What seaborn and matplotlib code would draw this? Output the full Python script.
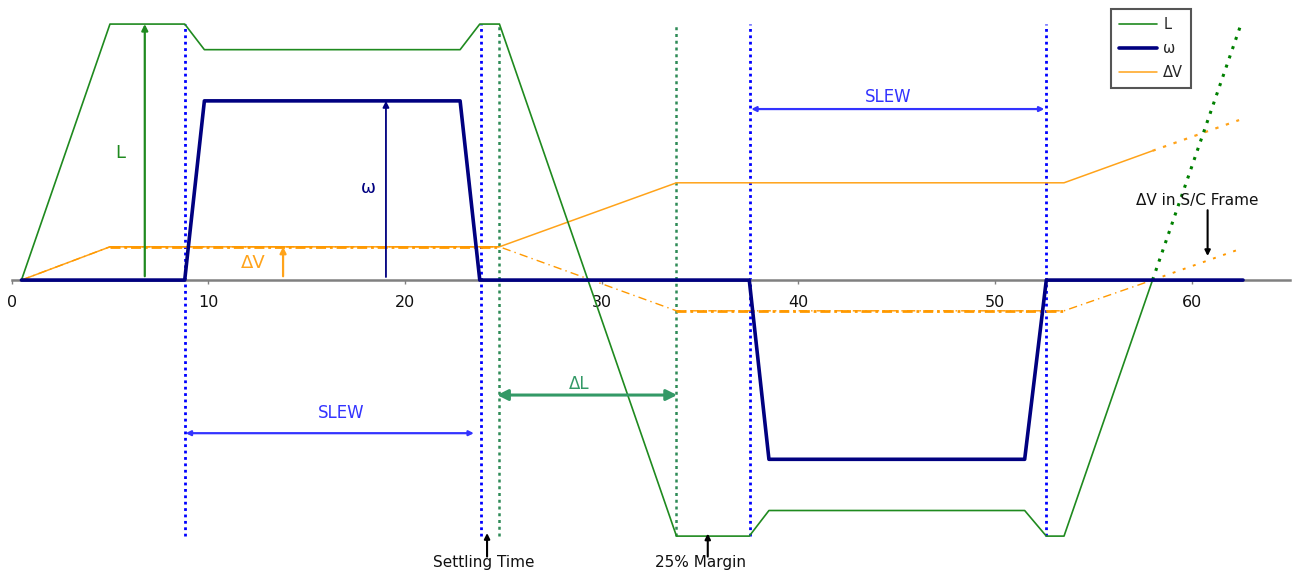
import matplotlib
matplotlib.use("Agg")
import matplotlib.pyplot as plt
from matplotlib.lines import Line2D
import numpy as np
import pandas as pd
import seaborn as sns

# ---- momentum profile (L), wheel speed (omega), velocity change (dV) ----
t_L = [0.5, 5.0, 8.8, 9.8, 22.8, 23.8, 24.8, 33.8, 37.5, 38.5, 51.5, 52.6, 53.5, 58.0]
L_vals = [0, 10, 10, 9, 9, 10, 10, -10, -10, -9, -9, -10, -10, 0]
t_L_ext = [58.0, 62.5]
L_ext = [0, 10]

t_w = [0.5, 8.8, 9.8, 22.8, 23.8, 37.5, 38.5, 51.5, 52.6, 62.6]
w_vals = [0, 0, 7, 7, 0, 0, -7, -7, 0, 0]

t_dv = [0.5, 5.0, 24.8, 33.8, 53.5, 58.0]
dv_inertial = [0, 1.3, 1.3, 3.8, 3.8, 5.05]
dv_body = [0, 1.3, 1.3, -1.2, -1.2, 0]
t_dv_ext = [58.0, 62.4]
dv_inertial_ext = [5.05, 6.25]
dv_body_ext = [0, 1.2]

slew_bounds = [8.8, 23.85, 37.55, 52.6]
margin_bounds = [24.8, 33.8]
x_ticks = [0, 10, 20, 30, 40, 50, 60]

C_L = "#1f8a1f"
C_W = "#000080"
C_DV = "#ffa31a"
C_DV2 = "#ff9900"
C_SLEW = "#0000ff"
C_SLEW_TXT = "#3333ff"
C_MARGIN = "#2e8b57"
C_DL = "#339966"

sns.set_theme(style="white")
plt.rcParams["font.family"] = ["DejaVu Sans"]

fig = plt.figure(figsize=(12.92, 5.74), dpi=100)
ax = fig.add_axes([0, 0, 1, 1])
ax.set_xlim(-0.59, 65.09)
ax.set_ylim(-11.48, 10.94)

# event markers
ax.vlines(slew_bounds, -10, 10, colors=C_SLEW, linestyles=(0, (1, 1.3)), lw=2.0, zorder=1)
ax.vlines(margin_bounds, -10, 10, colors=C_MARGIN, linestyles=(0, (1.2, 1.5)), lw=1.8, zorder=1)

# dV in inertial frame (solid) and spacecraft frame (dash-dot)
sns.lineplot(x=t_dv, y=dv_inertial, ax=ax, color=C_DV, lw=1.1, estimator=None, zorder=2)
sns.lineplot(x=t_dv_ext, y=dv_inertial_ext, ax=ax, color=C_DV, lw=1.6,
             linestyle=(0, (1.5, 3.5)), estimator=None, zorder=2)
sns.lineplot(x=t_dv, y=dv_body, ax=ax, color=C_DV2, lw=1.0,
             linestyle=(0, (6, 3, 1, 3)), estimator=None, zorder=2)
sns.lineplot(x=t_dv[1:3], y=dv_body[1:3], ax=ax, color=C_DV2, lw=2.0,
             linestyle=(0, (3.6, 1.4, 1, 1.4)), estimator=None, zorder=2)
sns.lineplot(x=t_dv[3:5], y=dv_body[3:5], ax=ax, color=C_DV2, lw=2.0,
             linestyle=(0, (3.6, 1.4, 1, 1.4)), estimator=None, zorder=2)
sns.lineplot(x=t_dv_ext, y=dv_body_ext, ax=ax, color=C_DV2, lw=1.4,
             linestyle=(0, (1.5, 4)), estimator=None, zorder=2)

# angular momentum
sns.lineplot(x=t_L, y=L_vals, ax=ax, color=C_L, lw=1.2, estimator=None, zorder=2.2)
sns.lineplot(x=t_L_ext, y=L_ext, ax=ax, color="#008000", lw=2.2,
             linestyle=(0, (1, 2.2)), estimator=None, zorder=2.2)

# wheel speed
sns.lineplot(x=t_w, y=w_vals, ax=ax, color=C_W, lw=2.6, estimator=None, zorder=3)

# axis styling
for side in ("left", "top", "right"):
    ax.spines[side].set_visible(False)
ax.spines["bottom"].set_position(("data", 0))
ax.spines["bottom"].set_bounds(0, 65)
ax.spines["bottom"].set_color("#808080")
ax.spines["bottom"].set_linewidth(1.8)
ax.spines["bottom"].set_zorder(1.5)
ax.set_xticks(x_ticks)
ax.set_yticks([])
ax.tick_params(axis="x", direction="out", length=3, width=1, color="#808080",
               pad=8, labelsize=11.5, labelcolor="#111111", bottom=True)
ax.set_xlabel("")
ax.set_ylabel("")


def arrow(x0, y0, x1, y1, color, lw=1.4, style="-|>", ms=9):
    ax.annotate("", xy=(x1, y1), xytext=(x0, y0),
                arrowprops=dict(arrowstyle=style, color=color, lw=lw,
                                mutation_scale=ms, shrinkA=0, shrinkB=0),
                zorder=4)


# magnitude arrows
arrow(6.77, 0.15, 6.77, 10, C_L, lw=1.6)
ax.text(5.51, 4.96, "L", color=C_L, fontsize=13, ha="center", va="center")
arrow(19.03, 0.12, 19.03, 7, C_W, lw=1.3)
ax.text(18.12, 3.6, "ω", color=C_W, fontsize=13, ha="center", va="center")
arrow(13.8, 0.15, 13.8, 1.3, C_DV, lw=1.6)
ax.text(12.27, 0.66, "ΔV", color=C_DV, fontsize=13, ha="center", va="center")

# slew intervals
arrow(8.85, -5.98, 23.5, -5.98, C_SLEW_TXT, lw=1.6, style="<|-|>", ms=7)
ax.text(16.75, -5.2, "SLEW", color=C_SLEW_TXT, fontsize=12, ha="center", va="center")
arrow(37.6, 6.68, 52.5, 6.68, C_SLEW_TXT, lw=1.6, style="<|-|>", ms=7)
ax.text(44.56, 7.15, "SLEW", color=C_SLEW_TXT, fontsize=12, ha="center", va="center")

# momentum margin
arrow(24.68, -4.49, 33.83, -4.49, C_DL, lw=2.2, style="<|-|>", ms=16)
ax.text(28.85, -4.06, "ΔL", color=C_DL, fontsize=12, ha="center", va="center")

# callouts
arrow(24.17, -10.8, 24.17, -9.88, "black", lw=1.5, ms=8)
ax.text(24.02, -11.05, "Settling Time", color="#111111", fontsize=11, ha="center", va="center")
arrow(35.39, -10.8, 35.39, -9.9, "black", lw=1.5, ms=8)
ax.text(35.0, -11.05, "25% Margin", color="#111111", fontsize=11, ha="center", va="center")
arrow(60.8, 2.73, 60.8, 0.94, "black", lw=1.5, ms=8)
ax.text(60.26, 3.125, "ΔV in S/C Frame", color="#111111", fontsize=11, ha="center", va="center")

handles = [
    Line2D([], [], color=C_L, lw=1.2),
    Line2D([], [], color=C_W, lw=2.6),
    Line2D([], [], color=C_DV, lw=1.1),
]
leg = ax.legend(handles, ["L", "ω", "ΔV"], loc="upper right",
                bbox_to_anchor=(0.922, 0.984), bbox_transform=fig.transFigure,
                borderaxespad=0, fancybox=False, framealpha=1, edgecolor="#555555",
                fontsize=10.5, handlelength=2.6, handletextpad=0.4,
                labelspacing=0.6, borderpad=0.55)
leg.get_frame().set_linewidth(1.5)

fig.savefig("out.png", dpi=100)
